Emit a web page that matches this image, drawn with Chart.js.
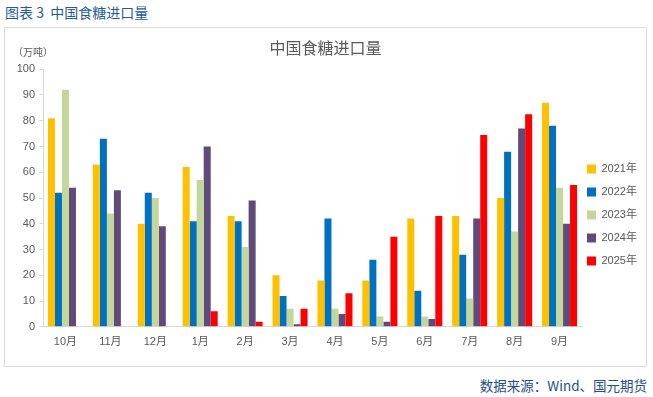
<!DOCTYPE html>
<html>
<head>
<meta charset="utf-8">
<script src="https://cdn.jsdelivr.net/npm/chart.js@4.4.1/dist/chart.umd.min.js"></script>
<style>
  body { margin: 0; background: #fff; width: 653px; height: 397px; position: relative; overflow: hidden; }
  #head { position: absolute; left: 5px; top: 2px; font: 14px "Noto Sans CJK SC", sans-serif; color: #1f5c9e; }
  #box { position: absolute; left: 4px; top: 27px; width: 643px; height: 340px; border: 1px solid #dcdcdc; box-sizing: border-box; }
  #src { position: absolute; right: 6px; top: 375px; font: 13.5px "Noto Sans CJK SC", sans-serif; color: #1f4e8c; }
</style>
</head>
<body>
<div id="head">图表 3&nbsp; 中国食糖进口量</div>
<div id="box"><canvas id="c"></canvas></div>
<div id="src">数据来源：Wind、国元期货</div>
<script>
const months = ['10月', '11月', '12月', '1月', '2月', '3月', '4月', '5月', '6月', '7月', '8月', '9月'];
const y2021 = [81, 63, 40, 62, 43, 20, 18, 18, 42, 43, 50, 87];
const y2022 = [52, 73, 52, 41, 41, 12, 42, 26, 14, 28, 68, 78];
const y2023 = [92, 44, 50, 57, 31, 7, 7, 4, 4, 11, 37, 54];
const y2024 = [54, 53, 39, 70, 49, 1, 5, 2, 3, 42, 77, 40];
const y2025 = [null, null, null, 6, 2, 7, 13, 35, 43, 74.5, 82.5, 55];
const seriesNames = ['2021年', '2022年', '2023年', '2024年', '2025年'];
const colors = ['#FFC000', '#0070C0', '#C4D79B', '#604A7B', '#FF0000'];

const font = '"Liberation Sans", "Noto Sans CJK SC", sans-serif';
const grey = '#595959';

// 坐标轴单位
const unitLabel = {
    id: 'unitLabel',
    afterDraw(chart) {
        const ctx = chart.ctx;
        ctx.save();
        ctx.font = '10px "Noto Sans CJK SC", sans-serif';
        ctx.fillStyle = grey;
        ctx.textAlign = 'left';
        ctx.textBaseline = 'middle';
        ctx.fillText('（万吨）', 8, 24);
        ctx.restore();
    }
};

// 图例贴近绘图区
const legendNudge = {
    id: 'legendNudge',
    afterLayout(chart) {
        const l = chart.legend;
        l.left -= 7;
        l.right -= 7;
        l.top += 26;
        l.bottom += 26;
    }
};

const data = [y2021, y2022, y2023, y2024, y2025];
new Chart(document.getElementById('c'), {
    type: 'bar',
    data: {
        labels: months,
        datasets: data.map((d, i) => ({
            label: seriesNames[i],
            data: d,
            backgroundColor: colors[i],
            categoryPercentage: 0.78,
            barPercentage: 1.0,
        }))
    },
    options: {
        responsive: true,
        maintainAspectRatio: false,
        animation: false,
        layout: { padding: { left: 0, right: 0, top: 0, bottom: 16 } },
        plugins: {
            title: {
                display: true,
                text: '中国食糖进口量',
                color: grey,
                font: { family: '"Noto Sans CJK SC", sans-serif', size: 16, weight: 'normal' },
                padding: { top: 10, bottom: 12 }
            },
            legend: {
                position: 'right',
                maxWidth: 64,
                labels: {
                    color: grey,
                    font: { family: font, size: 11 },
                    boxWidth: 9,
                    boxHeight: 9,
                    padding: 12
                }
            },
            tooltip: { enabled: false }
        },
        scales: {
            x: {
                grid: { display: false },
                border: { color: '#d9d9d9' },
                ticks: { color: grey, font: { family: font, size: 11 }, padding: 1 }
            },
            y: {
                min: 0,
                max: 100,
                afterFit: (s) => { s.width = 38; },
                grid: { drawOnChartArea: false, color: '#d9d9d9', tickLength: 4 },
                border: { color: '#d9d9d9' },
                ticks: { stepSize: 10, color: grey, font: { family: font, size: 11 }, padding: 4 }
            }
        }
    },
    plugins: [unitLabel, legendNudge]
});
</script>
</body>
</html>
